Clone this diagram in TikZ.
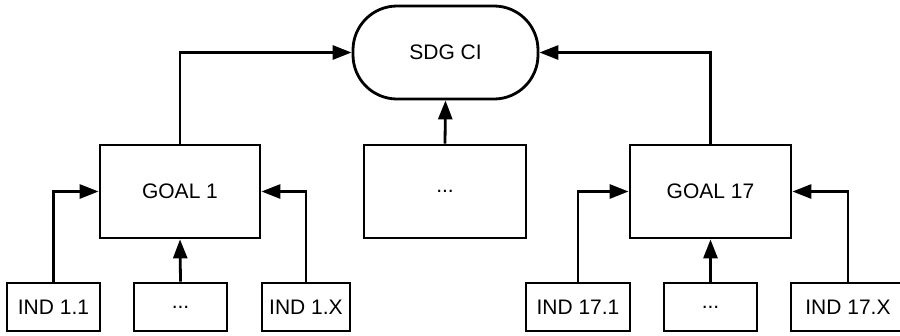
\documentclass[tikz,border=0pt]{standalone}
\usepackage{fontspec}
\setmainfont{Liberation Sans}
\usetikzlibrary{arrows.meta}
\begin{document}
\begin{tikzpicture}[x=1pt,y=-1pt,
  box/.style={draw,line width=2.8pt,inner sep=0pt,font=\fontsize{21}{24}\selectfont},
  arr/.style={line width=2.8pt,-{Triangle[length=19pt,width=14pt]}}]
\useasboundingbox (0,0) rectangle (900,335);
\node[box,rounded corners=44pt,minimum width=185pt,minimum height=93pt] (sdg) at (445.5,52.5) {SDG CI};
\node[box,minimum width=160pt,minimum height=93pt] (goal1) at (180,191.5) {GOAL 1};
\node[box,minimum width=162pt,minimum height=93pt] (mid) at (445,191.5) {...};
\node[box,minimum width=161pt,minimum height=93pt] (goal17) at (710.5,191.5) {GOAL 17};
\node[box,minimum width=93pt,minimum height=48pt] (ind11) at (53.5,307) {IND 1.1};
\node[box,minimum width=93pt,minimum height=48pt] (dots1) at (180.5,307) {...};
\node[box,minimum width=88pt,minimum height=48pt] (ind1x) at (306,307) {IND 1.X};
\node[box,minimum width=104pt,minimum height=48pt] (ind171) at (578,307) {IND 17.1};
\node[box,minimum width=93pt,minimum height=48pt] (dots17) at (710.5,307) {...};
\node[box,minimum width=114pt,minimum height=48pt] (ind17x) at (848,307) {IND 17.X};
\draw[arr] (goal1.north) |- (sdg.west);
\draw[arr] (goal17.north) |- (sdg.east);
\draw[arr] (mid.north) -- (sdg.south);
\draw[arr] (ind11.north) |- (goal1.west);
\draw[arr] (ind1x.north) |- (goal1.east);
\draw[arr] (dots1.north) -- (goal1.south);
\draw[arr] (ind171.north) |- (goal17.west);
\draw[arr] (ind17x.north) |- (goal17.east);
\draw[arr] (dots17.north) -- (goal17.south);
\end{tikzpicture}
\end{document}
